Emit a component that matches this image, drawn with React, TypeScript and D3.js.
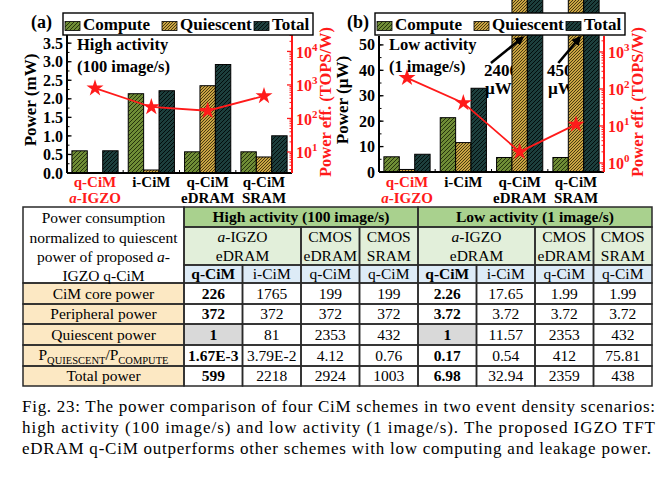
import React from "react";
import * as d3 from "d3";

const schemes = ["q-CiM a-IGZO", "i-CiM", "q-CiM eDRAM", "q-CiM SRAM"];
const seriesNames = ["Compute", "Quiescent", "Total"];

// high activity (100 image/s), mW
const highCompute = [0.598, 2.137, 0.571, 0.571];
const highQuiescent = [0.001, 0.081, 2.353, 0.432];
const highTotal = [0.599, 2.218, 2.924, 1.003];
const highEff = [800, 220, 170, 470];
const highTicks = [0, 0.5, 1, 1.5, 2, 2.5, 3, 3.5];
const highEffTicks = [10, 100, 1000, 10000];

// low activity (1 image/s), uW
const lowCompute = [5.98, 21.37, 5.71, 5.71];
const lowQuiescent = [1, 11.57, 2353, 432];
const lowTotal = [6.98, 32.94, 2359, 438];
const lowEff = [200, 42, 2, 11];
const lowTicks = [0, 10, 20, 30, 40, 50];
const lowEffTicks = [1, 10, 100, 1000];

// table
const rowNames = ["CiM core power", "Peripheral power", "Quiescent power", "ratio", "Total power"];
const coreRow = ["226", "1765", "199", "199", "2.26", "17.65", "1.99", "1.99"];
const periRow = ["372", "372", "372", "372", "3.72", "3.72", "3.72", "3.72"];
const quiRow = ["1", "81", "2353", "432", "1", "11.57", "2353", "432"];
const ratioRow = ["1.67E-3", "3.79E-2", "4.12", "0.76", "0.17", "0.54", "412", "75.81"];
const totalRow = ["599", "2218", "2924", "1003", "6.98", "32.94", "2359", "438"];
const subHeads = ["q-CiM", "i-CiM", "q-CiM", "q-CiM", "q-CiM", "i-CiM", "q-CiM", "q-CiM"];

const caption = [
  "Fig. 23: The power comparison of four CiM schemes in two event density scenarios:",
  "high activity (100 image/s) and low activity (1 image/s). The proposed IGZO TFT",
  "eDRAM q-CiM outperforms other schemes with low computing and leakage power.",
];

const font = "'Liberation Serif', 'Times New Roman', serif";
const RED = "#ff1a1a";

type Note = { text: string[]; tx: number; scheme: string; dx: number; ddx: number; ddy: number };

type PanelProps = {
  tag: string;
  tagX: number;
  left: number;
  right: number;
  top: number;
  bottom: number;
  yMax: number;
  ticks: number[];
  minor: number;
  fmt: (n: number) => string;
  effDomain: [number, number];
  effTicks: number[];
  compute: number[];
  quiescent: number[];
  total: number[];
  eff: number[];
  yTitle: string;
  note: string[];
  notes: Note[];
};

function Panel(p: PanelProps) {
  const x0 = d3.scaleBand<string>().domain(schemes).range([p.left, p.right]).paddingInner(0.18).paddingOuter(0.087);
  const x1 = d3.scaleBand<string>().domain(seriesNames).range([0, x0.bandwidth()]);
  const y = d3.scaleLinear().domain([0, p.yMax]).range([p.bottom, p.top]);
  const yr = d3.scaleLog().domain(p.effDomain).range([p.bottom, p.top]);
  const vals = [p.compute, p.quiescent, p.total];
  const clipId = "clip" + p.tag;

  const minorLeft = d3.range(0, p.yMax, p.minor);
  const minorRight: number[] = [];
  const lo = Math.floor(Math.log10(p.effDomain[0]));
  const hi = Math.ceil(Math.log10(p.effDomain[1]));
  for (let e = lo; e <= hi; e++) {
    for (let k = 2; k <= 9; k++) {
      const v = k * Math.pow(10, e);
      if (v >= p.effDomain[0] && v <= p.effDomain[1]) minorRight.push(v);
    }
  }
  const pts: [number, number][] = schemes.map((s, i) => [x0(s)! + x0.bandwidth() / 2, yr(p.eff[i])]);
  const star = d3.symbol().type(d3.symbolStar).size(90)()!;
  const legLeft = p.left - 4;

  return (
    <g fontFamily={font} fontWeight="bold">
      <clipPath id={clipId}>
        <rect x={p.left} y={p.top} width={p.right - p.left} height={p.bottom - p.top} />
      </clipPath>
      {/* annotation text sits behind the bars */}
      {p.notes.map((n, i) => (
        <g key={i} fontSize={17}>
          <text x={n.tx} y={76}>{n.text[0]}</text>
          <text x={n.tx + 1} y={94}>{n.text[1]}</text>
        </g>
      ))}
      <g clipPath={`url(#${clipId})`}>
        {schemes.map((s, i) =>
          seriesNames.map((name, j) => (
            <rect
              key={s + name}
              x={x0(s)! + x1(name)!}
              y={y(vals[j][i])}
              width={x1.bandwidth()}
              height={p.bottom - y(vals[j][i])}
              fill={`url(#pat-${name})`}
              stroke="#000"
              strokeWidth={1}
            />
          ))
        )}
      </g>
      {/* arrows */}
      {p.notes.map((n, i) => {
        const tipX = x0(n.scheme)! + x1("Quiescent")! + n.dx;
        const tipY = p.top + 2;
        return (
          <line key={i} x1={tipX - n.ddx} y1={tipY + n.ddy} x2={tipX} y2={tipY} stroke="#000" strokeWidth={2.6} markerEnd="url(#arrowHead)" />
        );
      })}
      {/* efficiency line */}
      <path d={d3.line()(pts)!} fill="none" stroke={RED} strokeWidth={1.8} />
      {pts.map((pt, i) => (
        <path key={i} d={star} transform={`translate(${pt[0]},${pt[1]})`} fill={RED} />
      ))}
      {/* left axis */}
      <line x1={p.left} x2={p.left} y1={p.top} y2={p.bottom} stroke="#000" strokeWidth={2} />
      {minorLeft.map((t) => (
        <line key={"m" + t} x1={p.left} x2={p.left + 2.5} y1={y(t)} y2={y(t)} stroke="#000" strokeWidth={1} />
      ))}
      {p.ticks.map((t) => (
        <g key={t}>
          <line x1={p.left} x2={p.left + 4.5} y1={y(t)} y2={y(t)} stroke="#000" strokeWidth={1.3} />
          <text x={p.left - 4} y={y(t)} dy="0.35em" textAnchor="end" fontSize={16}>
            {p.fmt(t)}
          </text>
        </g>
      ))}
      {/* bottom axis */}
      <line x1={p.left} x2={p.right} y1={p.bottom} y2={p.bottom} stroke="#000" strokeWidth={2} />
      {schemes.slice(1).map((s) => {
        const bx = x0(s)! - (x0.step() - x0.bandwidth()) / 2;
        return <line key={s} x1={bx} x2={bx} y1={p.bottom} y2={p.bottom - 3} stroke="#000" strokeWidth={1} />;
      })}
      {schemes.map((s, i) => {
        const cx = x0(s)! + x0.bandwidth() / 2;
        const parts = s.split(" ");
        return (
          <g key={s} fontSize={15} textAnchor="middle" fill={i === 0 ? RED : "#000"}>
            <text x={cx} y={187}>{parts[0]}</text>
            {parts[1] && (
              <text x={cx} y={203}>
                {i === 0 ? (
                  <>
                    <tspan fontStyle="italic">a</tspan>-IGZO
                  </>
                ) : (
                  parts[1]
                )}
              </text>
            )}
          </g>
        );
      })}
      {/* right axis */}
      <line x1={p.right} x2={p.right} y1={p.top} y2={p.bottom} stroke={RED} strokeWidth={2} />
      {minorRight.map((t, i) => (
        <line key={"r" + i} x1={p.right} x2={p.right - 2.5} y1={yr(t)} y2={yr(t)} stroke={RED} strokeWidth={1} />
      ))}
      {p.effTicks.map((t) => (
        <g key={t} fill={RED}>
          <line x1={p.right} x2={p.right - 5} y1={yr(t)} y2={yr(t)} stroke={RED} strokeWidth={1.3} />
          <text x={p.right + 4} y={yr(t)} dy="0.38em" fontSize={16}>
            10<tspan dy={-7} fontSize={11}>{Math.round(Math.log10(t))}</tspan>
          </text>
        </g>
      ))}
      {/* titles */}
      <text transform={`translate(${p.left - 31},${(p.top + p.bottom) / 2 - 4}) rotate(-90)`} textAnchor="middle" fontSize={17}>
        {p.yTitle}
      </text>
      <text transform={`translate(${p.right + 39},${(p.top + p.bottom) / 2 - 2}) rotate(-90)`} textAnchor="middle" fontSize={16.5} fill={RED}>
        Power eff. (TOPS/W)
      </text>
      <text x={p.left + 10} y={50} fontSize={16.5}>{p.note[0]}</text>
      <text x={p.left + 10} y={72} fontSize={16.5}>{p.note[1]}</text>
      {/* legend */}
      <text x={p.tagX} y={28} fontSize={18}>{p.tag}</text>
      <rect x={legLeft} y={13} width={250} height={22} fill="#fff" stroke="#000" strokeWidth={1.4} />
      {seriesNames.map((name, j) => {
        const sx = legLeft + [2, 99, 191][j];
        return (
          <g key={name}>
            <rect x={sx} y={21.5} width={15} height={9} fill={`url(#pat-${name})`} stroke="#000" strokeWidth={0.8} />
            <text x={sx + 18} y={30} fontSize={17}>{name}</text>
          </g>
        );
      })}
    </g>
  );
}

function Table() {
  const colX = [23, ...d3.range(9).map((i) => 184 + i * 58.5)];
  const rowY = [207, 227, 265, 283, 304, 324, 345, 366, 386];
  const green = "#a9d18e";
  const lightGreen = "#e2efda";
  const lightBlue = "#ddebf7";
  const peach = "#fce8c3";
  const grey = "#d9d9d9";
  const dataRows = [coreRow, periRow, quiRow, ratioRow, totalRow];

  type Cell = { c0: number; c1: number; r0: number; r1: number; fill: string; bold?: boolean; content?: React.ReactNode };
  const cells: Cell[] = [];
  cells.push({ c0: 0, c1: 1, r0: 0, r1: 3, fill: "#fff" });
  cells.push({ c0: 1, c1: 5, r0: 0, r1: 1, fill: green, bold: true, content: "High activity (100 image/s)" });
  cells.push({ c0: 5, c1: 9, r0: 0, r1: 1, fill: green, bold: true, content: "Low activity (1 image/s)" });
  [1, 5].forEach((g) => {
    cells.push({ c0: g, c1: g + 2, r0: 1, r1: 2, fill: lightGreen, content: "igzo" });
    cells.push({ c0: g + 2, c1: g + 3, r0: 1, r1: 2, fill: lightGreen, content: "CMOS|eDRAM" });
    cells.push({ c0: g + 3, c1: g + 4, r0: 1, r1: 2, fill: lightGreen, content: "CMOS|SRAM" });
  });
  subHeads.forEach((h, i) => cells.push({ c0: i + 1, c1: i + 2, r0: 2, r1: 3, fill: lightBlue, bold: i % 4 === 0, content: h }));
  rowNames.forEach((name, r) => {
    cells.push({ c0: 0, c1: 1, r0: r + 3, r1: r + 4, fill: peach, content: name });
    dataRows[r].forEach((v, i) =>
      cells.push({
        c0: i + 1,
        c1: i + 2,
        r0: r + 3,
        r1: r + 4,
        fill: r === 2 && i % 4 === 0 ? grey : "#fff",
        bold: i % 4 === 0,
        content: v,
      })
    );
  });

  const renderContent = (c: Cell, cx: number, cy: number) => {
    if (c.content === "igzo")
      return (
        <>
          <text x={cx} y={cy - 9.5} dy="0.35em">
            <tspan fontStyle="italic">a</tspan>-IGZO
          </text>
          <text x={cx} y={cy + 9.5} dy="0.35em">eDRAM</text>
        </>
      );
    if (typeof c.content === "string" && c.content.includes("|")) {
      const [a, b] = c.content.split("|");
      return (
        <>
          <text x={cx} y={cy - 9.5} dy="0.35em">{a}</text>
          <text x={cx} y={cy + 9.5} dy="0.35em">{b}</text>
        </>
      );
    }
    if (c.content === "ratio")
      return (
        <text x={cx} y={cy} dy="0.3em">
          P<tspan fontSize={10.5} dy={3.5}>QUIESCENT</tspan>
          <tspan dy={-3.5}>/P</tspan>
          <tspan fontSize={10.5} dy={3.5}>COMPUTE</tspan>
        </text>
      );
    return (
      <text x={cx} y={cy} dy="0.35em" fontWeight={c.bold ? "bold" : "normal"}>
        {c.content}
      </text>
    );
  };

  const headLines = ["Power consumption", "normalized to quiescent", "power of proposed ", "IGZO q-CiM"];
  return (
    <g fontFamily={font} fontSize={15.5} textAnchor="middle">
      {cells.map((c, i) => (
        <rect key={"r" + i} x={colX[c.c0]} y={rowY[c.r0]} width={colX[c.c1] - colX[c.c0]} height={rowY[c.r1] - rowY[c.r0]} fill={c.fill} />
      ))}
      {cells.map((c, i) => (
        <rect key={"s" + i} x={colX[c.c0]} y={rowY[c.r0]} width={colX[c.c1] - colX[c.c0]} height={rowY[c.r1] - rowY[c.r0]} fill="none" stroke="#2a2a2a" strokeWidth={1.5} />
      ))}
      {cells.map((c, i) =>
        c.content ? (
          <g key={"t" + i} fontWeight={c.bold ? "bold" : "normal"}>
            {renderContent(c, (colX[c.c0] + colX[c.c1]) / 2, (rowY[c.r0] + rowY[c.r1]) / 2)}
          </g>
        ) : null
      )}
      {headLines.map((l, i) => (
        <text key={l} x={(colX[0] + colX[1]) / 2} y={218 + i * 19.3} dy="0.35em">
          {l}
          {i === 2 && <tspan fontStyle="italic">a</tspan>}
          {i === 2 && "-"}
        </text>
      ))}
    </g>
  );
}

export default function App() {
  return (
    <svg width={661} height={490} style={{ position: "absolute", left: 0, top: 0, background: "#fff" }}>
      <defs>
        <pattern id="pat-Compute" patternUnits="userSpaceOnUse" width={4} height={4}>
          <rect width={4} height={4} fill="#6f8d36" />
          <path d="M-1,1 l2,-2 M0,4 l4,-4 M3,5 l2,-2" stroke="#26330d" strokeWidth={1} />
        </pattern>
        <pattern id="pat-Quiescent" patternUnits="userSpaceOnUse" width={3} height={3}>
          <rect width={3} height={3} fill="#c9a443" />
          <path d="M-1,1 l2,-2 M0,3 l3,-3 M2,4 l2,-2" stroke="#3a2e0c" strokeWidth={0.9} />
        </pattern>
        <pattern id="pat-Total" patternUnits="userSpaceOnUse" width={4} height={4}>
          <rect width={4} height={4} fill="#1d3f3d" />
          <path d="M-1,1 l2,-2 M0,4 l4,-4 M3,5 l2,-2" stroke="#030d0c" strokeWidth={1} />
        </pattern>
        <marker id="arrowHead" viewBox="0 0 10 10" refX={7} refY={5} markerWidth={3.6} markerHeight={3.6} orient="auto">
          <path d="M0,0 L10,5 L0,10 z" fill="#000" />
        </marker>
      </defs>
      <Panel
        tag="(a)"
        tagX={31}
        left={67}
        right={292}
        top={35}
        bottom={173}
        yMax={3.72}
        ticks={highTicks}
        minor={0.25}
        fmt={d3.format(".1f")}
        effDomain={[2.36, 30900]}
        effTicks={highEffTicks}
        compute={highCompute}
        quiescent={highQuiescent}
        total={highTotal}
        eff={highEff}
        yTitle="Power (mW)"
        note={["High activity", "(100 image/s)"]}
        notes={[]}
      />
      <Panel
        tag="(b)"
        tagX={347}
        left={379}
        right={604}
        top={36}
        bottom={172}
        yMax={53.5}
        ticks={lowTicks}
        minor={5}
        fmt={d3.format("d")}
        effDomain={[0.57, 2700]}
        effTicks={lowEffTicks}
        compute={lowCompute}
        quiescent={lowQuiescent}
        total={lowTotal}
        eff={lowEff}
        yTitle="Power (µW)"
        note={["Low activity", "(1 image/s)"]}
        notes={[
          { text: ["2400", "µW"], tx: 484, scheme: "q-CiM eDRAM", dx: 10, ddx: 31, ddy: 25 },
          { text: ["450", "µW"], tx: 547, scheme: "q-CiM SRAM", dx: 11, ddx: 21, ddy: 25 },
        ]}
      />
      <Table />
      <g fontFamily={font} fontSize={17}>
        {caption.map((c, i) => (
          <text key={i} x={22} y={412 + i * 21} textLength={i === 2 ? 629 : 633} lengthAdjust="spacing">
            {c}
          </text>
        ))}
      </g>
    </svg>
  );
}
